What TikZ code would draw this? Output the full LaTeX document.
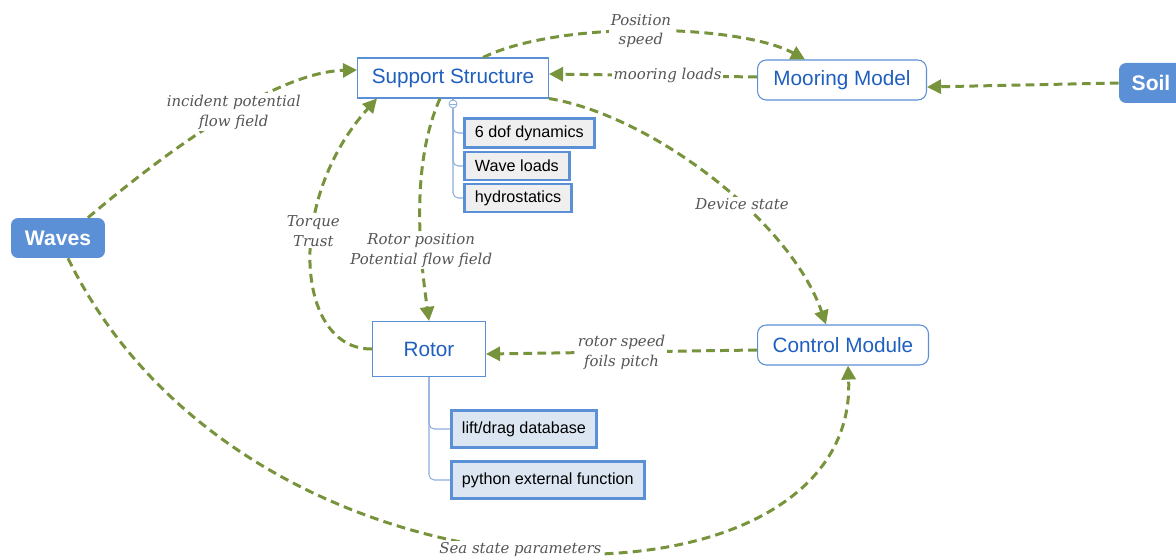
\documentclass[tikz,border=0pt]{standalone}
\usepackage{fontspec}
\setmainfont{Liberation Sans}
\newfontfamily\lblfont{DejaVu Serif}
\usetikzlibrary{arrows.meta}
\definecolor{nodeblue}{HTML}{5B8FD6}
\definecolor{textblue}{HTML}{1F5FBF}
\definecolor{edgegreen}{HTML}{77933C}
\definecolor{lblgray}{HTML}{555555}
\definecolor{subgray}{HTML}{EFEFEF}
\definecolor{subblue}{HTML}{DCE6F2}
\definecolor{treeblue}{HTML}{8EAEDC}

\begin{document}
\begin{tikzpicture}[
            x=0.02cm, y=-0.02cm,
            module/.style={
                draw=nodeblue,
                line width=0.6pt,
                fill=white,
                text=textblue,
                font=\fontsize{11.8}{13}\selectfont,
                minimum height=0.8cm,
                inner sep=0pt
            },
            input/.style={
                fill=nodeblue,
                rounded corners=4pt,
                text=white,
                font=\fontsize{12}{14}\selectfont\bfseries,
                minimum height=0.8cm,
                inner sep=0pt
            },
            item/.style={
                draw=nodeblue,
                line width=1.7pt,
                anchor=west,
                font=\fontsize{9.2}{11}\selectfont,
                inner xsep=0.21cm,
                inner ysep=0pt
            },
            link/.style={
                edgegreen,
                line width=1.7pt,
                dash pattern=on 5pt off 3pt,
                -{Triangle[length=8pt,width=8pt]}
            },
            lbl/.style={
                fill=white,
                inner sep=1pt,
                align=center,
                text=lblgray,
                font=\lblfont\itshape\fontsize{8.5}{11.3}\selectfont
            },
            tree/.style={
                treeblue,
                line width=0.6pt,
                rounded corners=3pt
            }
        ]

            \useasboundingbox (0, 0) rectangle (1176, 560);

            \node[module, minimum width=3.82cm] (ss) at (453, 78) {Support Structure};
            \node[module, rounded corners=5pt, minimum width=3.38cm] (mm) at (842, 80) {Mooring Model};
            \node[module, minimum width=2.26cm, minimum height=1.1cm] (rotor) at (429, 349) {Rotor};
            \node[module, rounded corners=5pt, minimum width=3.42cm] (cm) at (843, 345) {Control Module};

            \node[input, minimum width=1.88cm] (wv) at (58, 238) {Waves};
            \node[input, minimum width=1.28cm] (soil) at (1151, 83) {Soil};

            \node[item, fill=subgray, minimum height=0.58cm] (dof) at (463, 133) {6 dof dynamics};
            \node[item, fill=subgray, minimum height=0.56cm] (wl) at (463, 166) {Wave loads};
            \node[item, fill=subgray, minimum height=0.56cm] (hs) at (463, 198) {hydrostatics};

            \node[item, fill=subblue, minimum height=0.74cm] (lift) at (450, 429) {lift/drag database};
            \node[item, fill=subblue, minimum height=0.74cm] (py) at (450, 480) {python external function};

            % fold marks and tree lines
            \node[circle, draw=treeblue, fill=white, line width=0.5pt, minimum size=0.16cm, inner sep=0pt,
                path picture={\draw[treeblue, line width=0.5pt]
                    ([xshift=-1.8pt]path picture bounding box.center) --
                    ([xshift=1.8pt]path picture bounding box.center);}] (fold) at (453, 104) {};
            \draw[tree] (ss.south) -- (fold.north);
            \draw[tree] (fold.south) |- (dof.west);
            \draw[tree] (fold.south) |- (wl.west);
            \draw[tree] (fold.south) |- (hs.west);
            \draw[tree] (rotor.south) |- (lift.west);
            \draw[tree] (rotor.south) |- (py.west);

            % data flows
            \draw[link] ([xshift=0.6cm]wv.north) .. controls (180, 140) and (280, 72) .. ([yshift=0.16cm]ss.west)
                node[lbl, pos=0.52] {incident potential\\flow field};
            \draw[link] ([xshift=0.6cm]ss.north) .. controls (560, 20) and (740, 24) .. ([xshift=-0.74cm]mm.north)
                node[lbl, pos=0.48] {Position\\speed};
            \draw[link] ([yshift=0.06cm]mm.west) -- ([yshift=0.08cm]ss.east)
                node[lbl, pos=0.43] {mooring loads};
            \draw[link] (soil.west) -- ([yshift=-0.14cm]mm.east);
            \draw[link] ([xshift=-0.26cm]ss.south) .. controls (408, 170) and (422, 270) .. (rotor.north)
                node[lbl, pos=0.64] {Rotor position\\Potential flow field};
            \draw[link] (rotor.west) .. controls (295, 350) and (285, 200) .. ([xshift=0.4cm]ss.south west)
                node[lbl, pos=0.6] {Torque\\Trust};
            \draw[link] (ss.south east) .. controls (650, 115) and (790, 220) .. ([xshift=-0.34cm]cm.north)
                node[lbl, pos=0.6] {Device state};
            \draw[link] ([yshift=-0.1cm]cm.west) -- ([yshift=-0.1cm]rotor.east)
                node[lbl, midway] {rotor speed\\foils pitch};
            \draw[link] ([xshift=0.2cm]wv.south) .. controls (250, 630) and (860, 630) .. ([xshift=0.1cm]cm.south)
                node[lbl, pos=0.49] {Sea state parameters};

        \end{tikzpicture}
\end{document}
